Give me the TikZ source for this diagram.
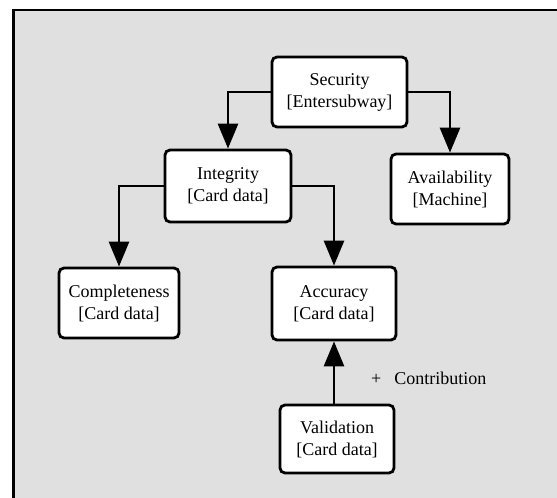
\documentclass[tikz,border=0pt]{standalone}
\usepackage{fontspec}
\setmainfont{Liberation Serif}
\usetikzlibrary{arrows.meta}
\definecolor{panelgray}{HTML}{E0E0E0}
\tikzset{
	goalnode/.style = {
		align=center,
		inner sep=0pt,
		text centered,
		font=\fontsize{18}{22}\selectfont,
		rectangle,
		rounded corners=5pt,
		draw=black,
		fill=white,
		line width=2.8pt
	},
	link/.style = {
		line width=2.8pt,
		-{Triangle[length=25pt,width=20pt]}
	},
	linklabel/.style = {
		inner sep=0pt,
		anchor=west,
		font=\fontsize{18}{22}\selectfont
	}
}
\begin{document}
\begin{tikzpicture}[x=1pt,y=-1pt]
\useasboundingbox (0,0) rectangle (557,498);
\clip (0,0) rectangle (557,498);
% panel
\draw [line width=2.8pt, fill=panelgray] (13.5,10) rectangle (580,520);
% goals
\node [goalnode, minimum width=135pt, minimum height=70pt] (security) at (339.5,92) {Security\\{[Entersubway]}};
\node [goalnode, minimum width=126pt, minimum height=72pt] (integrity) at (228,186) {Integrity\\{[Card data]}};
\node [goalnode, minimum width=118pt, minimum height=70pt] (availability) at (450,189) {Availability\\{[Machine]}};
\node [goalnode, minimum width=120pt, minimum height=70pt] (completeness) at (119,303) {Completeness\\{[Card data]}};
\node [goalnode, minimum width=124pt, minimum height=73pt] (accuracy) at (334,303.5) {Accuracy\\{[Card data]}};
\node [goalnode, minimum width=114pt, minimum height=68pt] (validation) at (337,439) {Validation\\{[Card data]}};
% links
\draw [link] (security.west) -| (integrity.north);
\draw [link] (security.east) -| (availability.north);
\draw [link] (integrity.west) -| (completeness.north);
\draw [link] (integrity.east) -| (accuracy.north);
\draw [link] (validation.north -| accuracy.south) -- (accuracy.south);
\node [linklabel] (contribution) at (371,378) {+\hspace{13pt}Contribution};
\end{tikzpicture}
\end{document}
